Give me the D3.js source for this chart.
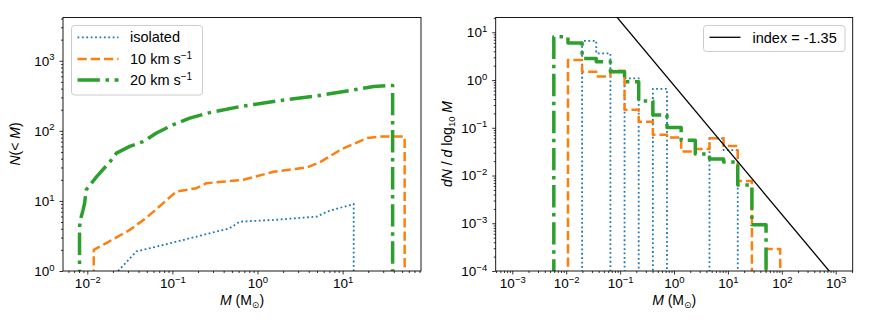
<!DOCTYPE html>
<html>
<head>
<meta charset="utf-8">
<script src="https://cdn.jsdelivr.net/npm/d3@7"></script>
<style>
body { margin: 0; background: #fff; }
svg { font-family: "Liberation Sans", Arial, sans-serif; }
</style>
</head>
<body>
<svg id="drawing_region" width="871" height="327"></svg>
<script>
// ---- left panel: cumulative counts N(<M) ----
const cumIsolatedM = [0.023, 0.0377, 0.078, 0.23, 0.47, 0.62, 1.54, 5.0, 6.5, 13.5, 13.5];
const cumIsolatedN = [1, 1.9, 2.35, 3.27, 4.07, 5.06, 5.35, 5.97, 7.0, 9.06, 0.5];

const cum10M = [0.0119, 0.0119, 0.0128, 0.0167, 0.0315, 0.049, 0.078, 0.111, 0.191, 0.251, 0.68, 1.54, 3.8, 5.5, 9.4, 19.4, 27.4, 51.5, 53.6, 53.6];
const cum10N = [0.5, 2, 2.1, 2.5, 3.86, 5.7, 9.3, 13.6, 15.2, 17.9, 20, 26, 30, 36, 53.5, 79, 83, 83, 83, 0.5];

const cum20M = [0.0081, 0.0081, 0.0085, 0.0089, 0.0093, 0.0097, 0.0128, 0.0184, 0.022, 0.0315, 0.045, 0.065, 0.102, 0.16, 0.275, 0.625, 1.85, 5.0, 12.3, 23.2, 36.4, 38.7, 38.7];
const cum20N = [0.5, 4.3, 6, 7.4, 9.3, 14.4, 22, 36, 48, 60, 70, 93, 122, 152, 182, 222, 271, 316, 377, 430, 444, 444, 0.5];

// ---- right panel: dN / dlog10 M histograms (shared bin edges) ----
const histEdges = [0.00589, 0.01078, 0.01972, 0.0361, 0.0661, 0.1209, 0.2213, 0.405, 0.741, 1.357, 2.483, 4.545, 8.318, 15.22, 27.86, 51.0, 93.3];
const histIsolated = [0, 0, 6.6, 3.6, 0, 1.08, 0, 0.65, 0, 0, 0, 0.06, 0.034, 0, 0, 0];
const hist10 = [0, 2.62, 1.49, 1.19, 1.57, 0.239, 0.134, 0.0715, 0.0627, 0.032, 0.036, 0.0604, 0.0416, 0.0077, 0, 0.00029];
const hist20 = [8.05, 6.0, 2.84, 2.41, 1.49, 0.92, 0.363, 0.185, 0.101, 0.0547, 0.0283, 0.0222, 0.0193, 0.00636, 0.00093, 0];

// power law reference line
const plIndex = -1.35;
const plNorm = 0.77;
const plMass = [1e-3, 1e3];

// ticks
const leftMassTicks = [1e-2, 1e-1, 1e0, 1e1];
const leftNTicks = [1e0, 1e1, 1e2, 1e3];
const rightMassTicks = [1e-3, 1e-2, 1e-1, 1e0, 1e1, 1e2, 1e3];
const rightDnTicks = [1e-4, 1e-3, 1e-2, 1e-1, 1e0, 1e1];

const seriesColors = ['#1f77b4', '#ff7f0e', '#2ca02c'];
const seriesWidths = [1.8, 2.5, 3.5];
const seriesDashes = ['1.8,2.6', '9.25,4', '22.4,5.6,3.5,5.6'];

const svg = d3.select('#drawing_region');

class LogPanel {

    constructor( config ) {
        this.config = config;
        this.init();
    }

    init() {
        let self = this;
        const c = self.config;

        self.chart = svg.append('g')
            .attr('transform', `translate(${c.left}, ${c.top})`);

        self.inner_width = c.right - c.left;
        self.inner_height = c.bottom - c.top;

        self.xscale = d3.scaleLog().domain(c.xdomain).range([0, self.inner_width]);
        self.yscale = d3.scaleLog().domain(c.ydomain).range([self.inner_height, 0]);

        self.chart.append('clipPath').attr('id', c.id + '_clip')
            .append('rect')
            .attr('width', self.inner_width)
            .attr('height', self.inner_height);

        self.plot = self.chart.append('g')
            .attr('clip-path', `url(#${c.id}_clip)`);

        self.line = d3.line()
            .x(d => self.xscale(d[0]))
            .y(d => self.yscale(Math.max(d[1], 1e-5)));
    }

    drawLine( pts, i ) {
        let self = this;
        self.plot.append('path')
            .datum(pts)
            .attr('d', self.line)
            .attr('fill', 'none')
            .attr('stroke', seriesColors[i])
            .attr('stroke-width', seriesWidths[i])
            .attr('stroke-dasharray', seriesDashes[i])
            .attr('stroke-linejoin', 'round');
    }

    drawAxes( xticks, yticks ) {
        let self = this;
        const minorX = self.xscale.ticks().filter(v => !xticks.some(t => Math.abs(t - v) / t < 1e-6));
        const minorY = self.yscale.ticks().filter(v => !yticks.some(t => Math.abs(t - v) / t < 1e-6));

        const xg = self.chart.append('g').attr('transform', `translate(0, ${self.inner_height})`);
        xg.append('g').call(d3.axisBottom(self.xscale).tickValues(minorX).tickSize(2).tickFormat(''));
        xg.append('g').call(d3.axisBottom(self.xscale).tickValues(xticks).tickSize(3.5).tickPadding(4)).call(powTicks);

        const yg = self.chart.append('g');
        yg.append('g').call(d3.axisLeft(self.yscale).tickValues(minorY).tickSize(2).tickFormat(''));
        yg.append('g').call(d3.axisLeft(self.yscale).tickValues(yticks).tickSize(3.5).tickPadding(5)).call(powTicks);

        self.chart.selectAll('.domain').remove();
        self.chart.selectAll('.tick line').attr('stroke', '#000').attr('stroke-width', 0.8);

        self.chart.append('rect')
            .attr('width', self.inner_width)
            .attr('height', self.inner_height)
            .attr('fill', 'none')
            .attr('stroke', '#000')
            .attr('stroke-width', 0.9);
    }
}

function powTicks( g ) {
    g.selectAll('.tick text').each(function(d) {
        const e = Math.round(Math.log10(d));
        const t = d3.select(this).text(null)
            .attr('font-size', '13.5px')
            .attr('fill', '#000');
        t.append('tspan').text('10');
        t.append('tspan').attr('dy', -5.2).attr('font-size', '9.5px')
            .text(e < 0 ? '\u2212' + (-e) : String(e));
    });
}

function massLabel( cx ) {
    const t = svg.append('text')
        .attr('x', cx).attr('y', 305)
        .attr('text-anchor', 'middle')
        .attr('font-size', '14px');
    t.append('tspan').attr('font-style', 'italic').text('M');
    t.append('tspan').text(' (M');
    t.append('tspan').attr('dy', 3).attr('font-size', '9px').attr('font-family', 'DejaVu Sans').text('\u2299');
    t.append('tspan').attr('dy', -3).text(')');
}

// ---- left panel ----
const left = new LogPanel({
    id: 'left', left: 63, right: 421, top: 17.5, bottom: 271,
    xdomain: [0.00518, 83.4], ydomain: [1, 4140]
});
[[cumIsolatedM, cumIsolatedN], [cum10M, cum10N], [cum20M, cum20N]].forEach((s, i) => {
    left.drawLine(s[0].map((m, j) => [m, s[1][j]]), i);
});
left.drawAxes(leftMassTicks, leftNTicks);
massLabel(242);

const ylL = svg.append('text')
    .attr('transform', 'translate(20,144) rotate(-90)')
    .attr('text-anchor', 'middle')
    .attr('font-size', '14px');
ylL.append('tspan').attr('font-style', 'italic').text('N');
ylL.append('tspan').text('(< ');
ylL.append('tspan').attr('font-style', 'italic').text('M');
ylL.append('tspan').text(')');

// left legend
const legL = svg.append('g');
legL.append('rect')
    .attr('x', 71.5).attr('y', 25.5).attr('width', 131).attr('height', 69.5).attr('rx', 3)
    .attr('fill', '#fff').attr('fill-opacity', 0.8)
    .attr('stroke', '#cccccc').attr('stroke-width', 1);
const legRows = [37.3, 59, 80];
const legNames = ['isolated', '10 km s', '20 km s'];
legRows.forEach((ry, i) => {
    legL.append('line')
        .attr('x1', 77.5).attr('x2', 118.5).attr('y1', ry).attr('y2', ry)
        .attr('stroke', seriesColors[i])
        .attr('stroke-width', seriesWidths[i])
        .attr('stroke-dasharray', seriesDashes[i]);
    const t = legL.append('text')
        .attr('x', 130).attr('y', ry + 5)
        .attr('font-size', '14.5px');
    t.append('tspan').text(legNames[i]);
    if (i > 0) {
        t.append('tspan').attr('dy', -5.5).attr('font-size', '10px').text('\u22121');
    }
});

// ---- right panel ----
const right = new LogPanel({
    id: 'right', left: 495.7, right: 852.7, top: 17.5, bottom: 271,
    xdomain: [0.000492, 2065], ydomain: [1e-4, 20.4]
});
[histIsolated, hist10, hist20].forEach((h, i) => {
    const pts = [[histEdges[0], 0]];
    h.forEach((v, k) => {
        pts.push([histEdges[k], v]);
        pts.push([histEdges[k + 1], v]);
    });
    pts.push([histEdges[histEdges.length - 1], 0]);
    right.drawLine(pts, i);
});
right.plot.append('path')
    .datum(plMass.map(m => [m, plNorm * Math.pow(m, plIndex)]))
    .attr('d', right.line)
    .attr('fill', 'none')
    .attr('stroke', '#000')
    .attr('stroke-width', 1.3);
right.drawAxes(rightMassTicks, rightDnTicks);
massLabel(674.2);

const ylR = svg.append('text')
    .attr('transform', 'translate(452,144) rotate(-90)')
    .attr('text-anchor', 'middle')
    .attr('font-size', '14px');
ylR.append('tspan').attr('font-style', 'italic').text('dN');
ylR.append('tspan').text(' / ');
ylR.append('tspan').attr('font-style', 'italic').text('d');
ylR.append('tspan').text(' log');
ylR.append('tspan').attr('dy', 3).attr('font-size', '9.5px').text('10');
ylR.append('tspan').attr('dy', -3).text(' ');
ylR.append('tspan').attr('font-style', 'italic').text('M');

// right legend
const legR = svg.append('g');
legR.append('rect')
    .attr('x', 703.5).attr('y', 25.5).attr('width', 141.5).attr('height', 26).attr('rx', 3)
    .attr('fill', '#fff').attr('fill-opacity', 0.8)
    .attr('stroke', '#cccccc').attr('stroke-width', 1);
legR.append('line')
    .attr('x1', 709.5).attr('x2', 740.5).attr('y1', 37.3).attr('y2', 37.3)
    .attr('stroke', '#000').attr('stroke-width', 1.3);
legR.append('text')
    .attr('x', 752.5).attr('y', 42.5)
    .attr('font-size', '14.5px')
    .text('index = ' + plIndex.toFixed(2));
</script>
</body>
</html>
